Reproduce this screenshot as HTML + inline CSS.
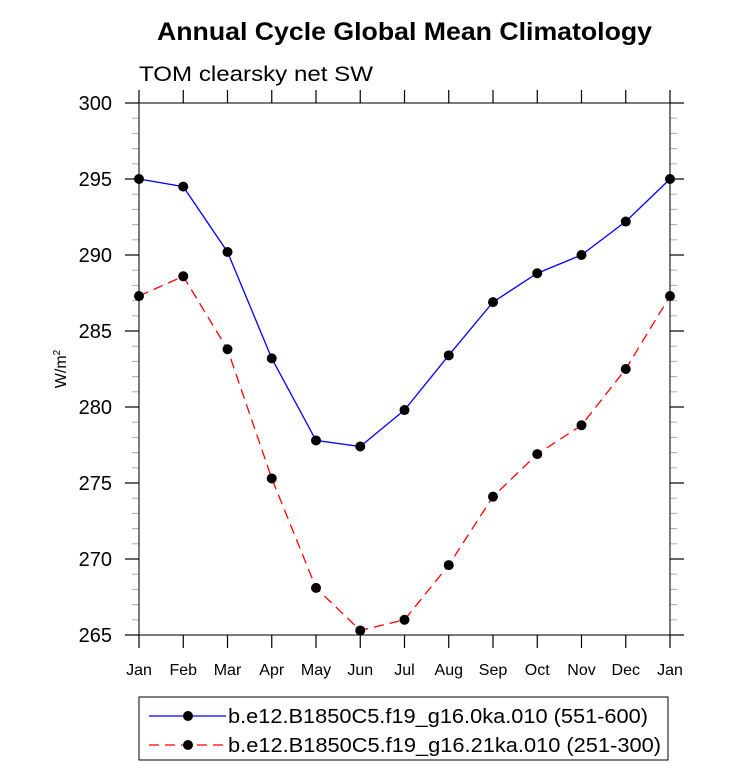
<!DOCTYPE html>
<html><head><meta charset="utf-8"><style>body{margin:0;background:#fff}svg text{font-family:"Liberation Sans",sans-serif}</style></head>
<body>
<svg width="733" height="773" xmlns="http://www.w3.org/2000/svg">
<text x="157" y="40" font-size="25" font-weight="bold" textLength="495" lengthAdjust="spacingAndGlyphs">Annual Cycle Global Mean Climatology</text>
<text x="139" y="81" font-size="21" textLength="234" lengthAdjust="spacingAndGlyphs">TOM clearsky net SW</text>
<text transform="translate(66,369) rotate(-90)" text-anchor="middle" font-size="16">W/m<tspan font-size="10" dy="-6">2</tspan></text>
<g id="axes"></g>
<g id="series"></g>
<g>
<rect x="139" y="697" width="529" height="63" fill="none" stroke="#000" stroke-width="1"/>
<g>
<line x1="149" y1="716" x2="226" y2="716" stroke="#00f" stroke-width="1.3"/><circle cx="188" cy="716" r="5" fill="#000"/>
<text x="228" y="723" font-size="20" textLength="420" lengthAdjust="spacingAndGlyphs">b.e12.B1850C5.f19_g16.0ka.010 (551-600)</text></g>
<g>
<line x1="149" y1="745" x2="226" y2="745" stroke="#f00" stroke-width="1.3" stroke-dasharray="10,6"/><circle cx="188" cy="745" r="5" fill="#000"/>
<text x="228" y="752" font-size="20" textLength="433" lengthAdjust="spacingAndGlyphs">b.e12.B1850C5.f19_g16.21ka.010 (251-300)</text></g>
</g>
</svg>
<script>
const months=["Jan","Feb","Mar","Apr","May","Jun","Jul","Aug","Sep","Oct","Nov","Dec","Jan"];
const blue=[295.0,294.5,290.2,283.2,277.8,277.4,279.8,283.4,286.9,288.8,290.0,292.2,295.0];
const red=[287.3,288.6,283.8,275.3,268.1,265.3,266.0,269.6,274.1,276.9,278.8,282.5,287.3];
const yTicks=[265,270,275,280,285,290,295,300];
const X0=139,X1=670,Y0=635,Y1=103,YMIN=265,YMAX=300;
const xs=i=>X0+(X1-X0)*i/(months.length-1);
const ys=v=>Y0-(v-YMIN)/(YMAX-YMIN)*(Y0-Y1);
const NS="http://www.w3.org/2000/svg";
function mk(t,a,p){const e=document.createElementNS(NS,t);for(const k in a)e.setAttribute(k,a[k]);p.appendChild(e);return e;}
const ax=document.getElementById('axes');
for(let v=YMIN;v<=YMAX;v++){
 if(v%5!==0){mk('line',{x1:X0-7,y1:ys(v),x2:X0,y2:ys(v),stroke:'#aaa'},ax);mk('line',{x1:X1,y1:ys(v),x2:X1+7,y2:ys(v),stroke:'#aaa'},ax);}
}
const fr=mk('rect',{x:X0,y:Y1,width:X1-X0,height:Y0-Y1,fill:'none',stroke:'#333','stroke-width':1.3},ax);


yTicks.forEach(v=>{
 mk('line',{x1:X0-14,y1:ys(v),x2:X0,y2:ys(v),stroke:'#000','stroke-width':1.2},ax);
 mk('line',{x1:X1,y1:ys(v),x2:X1+14,y2:ys(v),stroke:'#000','stroke-width':1.2},ax);
 const t=mk('text',{x:X0-27,y:ys(v)+7,'text-anchor':'end','font-size':20},ax);t.textContent=v;
 
 
});
months.forEach((m,i)=>{
 mk('line',{x1:xs(i),y1:Y0,x2:xs(i),y2:Y0+13,stroke:'#000','stroke-width':1.2},ax);
 mk('line',{x1:xs(i),y1:Y1-13,x2:xs(i),y2:Y1,stroke:'#000','stroke-width':1.2},ax);
 const t=mk('text',{x:xs(i),y:Y0+40,'text-anchor':'middle','font-size':16},ax);t.textContent=m;
 
 
});
const sg=document.getElementById('series');
function draw(vals,col,dash,name){
 const g=mk('g',{},sg);
 
 
 const a={points:vals.map((v,i)=>xs(i)+','+ys(v)).join(' '),fill:'none',stroke:col,'stroke-width':1.3};
 if(dash)a['stroke-dasharray']=dash;
 mk('polyline',a,g);
 vals.forEach((v,i)=>{const c=mk('circle',{cx:xs(i),cy:ys(v),r:5,fill:'#000'},g);
  
  });
}
draw(blue,'#00f',null,'series-0ka');
draw(red,'#f00','10,6','series-21ka');
</script>
</body></html>
